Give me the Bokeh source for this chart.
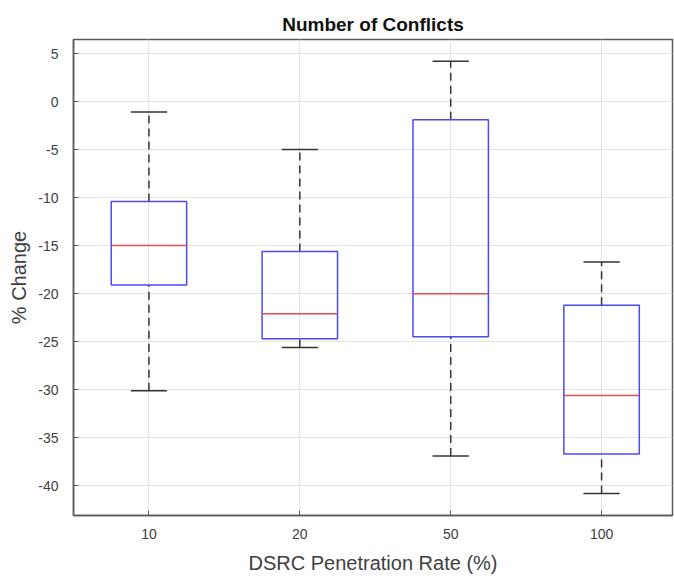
import numpy as np
from bokeh.plotting import figure
from bokeh.models import Range1d, FixedTicker, ColumnDataSource
from bokeh.embed import file_html
from bokeh.resources import INLINE

# Data
categories = ["10", "20", "50", "100"]
upper_whisker = [-1.1, -5.0, 4.2, -16.7]
q3 = [-10.4, -15.6, -1.9, -21.2]
median = [-15.0, -22.1, -20.0, -30.6]
q1 = [-19.1, -24.7, -24.5, -36.7]
lower_whisker = [-30.1, -25.6, -36.9, -40.8]
y_ticks = [-40, -35, -30, -25, -20, -15, -10, -5, 0, 5]

x = np.arange(1, len(categories) + 1, dtype=float)
box_w = 0.5
cap_w = 0.24

src = ColumnDataSource(dict(
    x=x, q1=q1, q3=q3, med=median, lo=lower_whisker, hi=upper_whisker,
    bx0=x - box_w / 2, bx1=x + box_w / 2,
    cx0=x - cap_w / 2, cx1=x + cap_w / 2,
))

FONT = "Liberation Sans"
TXT = "#404040"

p = figure(width=674, height=584, output_backend="svg", toolbar_location=None,
           x_range=Range1d(0.5, 4.47), y_range=Range1d(-43.1, 6.46),
           title="Number of Conflicts",
           min_border_left=73, min_border_right=2, min_border_top=39, min_border_bottom=69)
p.frame_width = 599
p.frame_height = 476

p.title.align = "center"
p.title.text_font = FONT
p.title.text_font_size = "19px"
p.title.text_font_style = "bold"
p.title.text_color = "#111111"
p.title.offset = 0
p.title.standoff = 9

# whiskers (dashed)
p.segment(x0="x", y0="q3", x1="x", y1="hi", source=src, line_color="#333333",
          line_width=1.5, line_dash="8 5")
p.segment(x0="x", y0="lo", x1="x", y1="q1", source=src, line_color="#333333",
          line_width=1.5, line_dash="8 5")
# caps
p.segment(x0="cx0", y0="hi", x1="cx1", y1="hi", source=src, line_color="#333333", line_width=1.5)
p.segment(x0="cx0", y0="lo", x1="cx1", y1="lo", source=src, line_color="#333333", line_width=1.5)
# boxes
p.quad(left="bx0", right="bx1", bottom="q1", top="q3", source=src,
       fill_alpha=0, line_color="#4a4af0", line_width=1.5)
# medians
p.segment(x0="bx0", y0="med", x1="bx1", y1="med", source=src, line_color="#e05050", line_width=1.5)

# axes
p.xaxis.ticker = FixedTicker(ticks=list(x))
p.xaxis.major_label_overrides = {float(v): c for v, c in zip(x, categories)}
p.yaxis.ticker = FixedTicker(ticks=y_ticks)
p.yaxis.major_label_overrides = {v: str(v) for v in y_ticks}
p.xaxis.axis_label = "DSRC Penetration Rate (%)"
p.yaxis.axis_label = "% Change"

for ax in (p.xaxis, p.yaxis):
    ax.axis_line_color = "#5a5a5a"
    ax.axis_line_width = 1.5
    ax.major_tick_in = 5
    ax.major_tick_out = 0
    ax.major_tick_line_color = "#5a5a5a"
    ax.minor_tick_line_color = None
    ax.major_label_text_font = FONT
    ax.major_label_text_font_size = "14px"
    ax.major_label_text_color = TXT
    ax.axis_label_text_font = FONT
    ax.axis_label_text_font_size = "20px"
    ax.axis_label_text_font_style = "normal"
    ax.axis_label_text_color = TXT

p.xaxis.major_label_standoff = 13
p.yaxis.major_label_standoff = 15
p.xaxis.axis_label_standoff = 10
p.yaxis.axis_label_standoff = 5

p.xgrid.grid_line_color = "#e3e3e3"
p.ygrid.grid_line_color = "#e3e3e3"
p.xgrid.grid_line_width = 1
p.ygrid.grid_line_width = 1

p.outline_line_color = "#5a5a5a"
p.outline_line_width = 1.5
p.background_fill_color = "white"
p.border_fill_color = "white"

open("out.html", "w").write(file_html(p, INLINE))
